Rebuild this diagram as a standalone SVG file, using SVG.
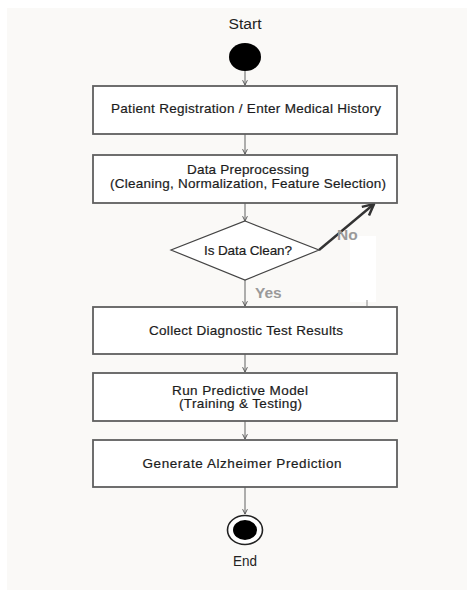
<svg xmlns="http://www.w3.org/2000/svg" width="467" height="592" viewBox="0 0 467 592">
  <style>
    .panel { fill: #faf9f7; }
    .box { fill: #ffffff; stroke: #5f5f5f; stroke-width: 1.8; }
    .lbl { font-family: "Liberation Sans", Arial, sans-serif; font-size: 13.5px; fill: #1c1c1c; text-anchor: middle; stroke: #1c1c1c; stroke-width: 0.2; }
    .term { font-family: "Liberation Sans", Arial, sans-serif; font-size: 14px; fill: #222222; text-anchor: middle; }
    .guard { font-family: "Liberation Sans", Arial, sans-serif; font-size: 15.5px; font-weight: bold; fill: #9a9a9a; }
    .flow { fill: none; stroke: #7a7a7a; stroke-width: 1.2; marker-end: url(#tip); }
    .reject { fill: none; stroke: #333333; stroke-width: 2.4; marker-end: url(#tipBold); }
  </style>
  <defs>
    <marker id="tip" viewBox="0 0 10 10" refX="9" refY="5" markerWidth="6" markerHeight="6" markerUnits="userSpaceOnUse" orient="auto">
      <path d="M1,1 L9,5 L1,9" fill="none" stroke="#555555" stroke-width="1.6"/>
    </marker>
    <marker id="tipBold" viewBox="0 0 10 10" refX="9" refY="5" markerWidth="14" markerHeight="14" markerUnits="userSpaceOnUse" orient="auto">
      <path d="M1,1 L9,5 L1,9" fill="none" stroke="#333333" stroke-width="1.8"/>
    </marker>
  </defs>

  <!-- page background -->
  <rect width="467" height="592" fill="#ffffff"/>
  <rect class="panel" x="7" y="8" width="460" height="582"/>
  <!-- blank patch beside the decision -->
  <rect x="350" y="236" width="26" height="66" fill="#ffffff"/>
  <line x1="367" y1="300" x2="367" y2="306" stroke="#888888" stroke-width="1"/>

  <!-- connectors -->
  <g id="connectors">
    <line class="flow" x1="245" y1="71" x2="245" y2="85"/>
    <line class="flow" x1="245" y1="134" x2="245" y2="154"/>
    <line class="flow" x1="245" y1="203" x2="245" y2="221"/>
    <line class="flow" x1="245" y1="280" x2="245" y2="306"/>
    <line class="flow" x1="245" y1="354" x2="245" y2="372"/>
    <line class="flow" x1="245" y1="421" x2="245" y2="439"/>
    <line class="flow" x1="245" y1="487" x2="245" y2="514"/>
    <line class="reject" x1="319" y1="250" x2="374" y2="204"/>
    <text class="guard" x="337" y="240">No</text>
    <text class="guard" x="255" y="298">Yes</text>
  </g>

  <!-- start node -->
  <g id="start">
    <text class="term" x="245" y="29" textLength="33" lengthAdjust="spacingAndGlyphs">Start</text>
    <ellipse cx="245" cy="57" rx="16" ry="14" fill="#000000"/>
  </g>

  <g id="registration">
    <rect class="box" x="93" y="86" width="304" height="48"/>
    <text class="lbl" x="246" y="113" textLength="270" lengthAdjust="spacing">Patient Registration / Enter Medical History</text>
  </g>

  <g id="preprocessing">
    <rect class="box" x="93" y="155" width="304" height="48"/>
    <text class="lbl" x="248" y="174" textLength="122" lengthAdjust="spacing">Data Preprocessing</text>
    <text class="lbl" x="248" y="187.5" textLength="276" lengthAdjust="spacing">(Cleaning, Normalization, Feature Selection)</text>
  </g>

  <g id="decision">
    <polygon points="245,221 319,250 245,280 171,250" fill="#ffffff" stroke="#444444" stroke-width="1.2"/>
    <text class="lbl" x="248" y="254.5" textLength="88" lengthAdjust="spacing">Is Data Clean?</text>
  </g>

  <g id="diagnostics">
    <rect class="box" x="93" y="307" width="304" height="47"/>
    <text class="lbl" x="246" y="334.5" textLength="194" lengthAdjust="spacing">Collect Diagnostic Test Results</text>
  </g>

  <g id="model">
    <rect class="box" x="93" y="373" width="304" height="48"/>
    <text class="lbl" x="240" y="394.5" textLength="136" lengthAdjust="spacing">Run Predictive Model</text>
    <text class="lbl" x="240.5" y="408" textLength="123" lengthAdjust="spacing">(Training &amp; Testing)</text>
  </g>

  <g id="prediction">
    <rect class="box" x="93" y="440" width="304" height="47"/>
    <text class="lbl" x="242" y="467.5" textLength="199" lengthAdjust="spacing">Generate Alzheimer Prediction</text>
  </g>

  <!-- end node -->
  <g id="end">
    <ellipse cx="245" cy="530" rx="17.5" ry="14.5" fill="#ffffff" stroke="#222222" stroke-width="1.6"/>
    <ellipse cx="245" cy="530" rx="12" ry="10" fill="#000000"/>
    <text class="term" x="245" y="565.5" textLength="24" lengthAdjust="spacingAndGlyphs">End</text>
  </g>
</svg>
